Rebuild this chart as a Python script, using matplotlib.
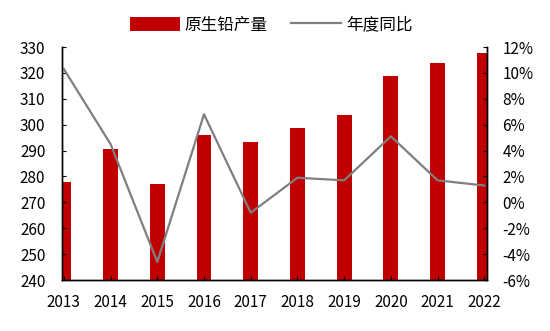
import matplotlib.pyplot as plt
import numpy as np

plt.rcParams['font.family'] = ['Noto Sans CJK SC', 'DejaVu Sans']

years = ['2013', '2014', '2015', '2016', '2017', '2018', '2019', '2020', '2021', '2022']
output = [277.7, 290.5, 277.1, 296.0, 293.2, 298.8, 303.7, 318.7, 323.7, 327.8]
yoy = [10.3, 4.5, -4.6, 6.8, -0.8, 1.9, 1.7, 5.1, 1.7, 1.3]

fig = plt.figure(figsize=(5.5, 3.31), dpi=100)
ax = fig.add_axes([0.1127, 0.154, 0.773, 0.704])
ax2 = ax.twinx()

x = np.arange(len(years))
bars = ax.bar(x, output, width=0.32, color='#C00000', label='原生铅产量')
line, = ax2.plot(x, yoy, color='#7F7F7F', lw=1.6, label='年度同比')

ax.set_xlim(-0.04, 9.06)
ax.set_ylim(240, 330)
ax.set_yticks(np.arange(240, 331, 10))
ax2.set_ylim(-6, 12)
ax2.set_yticks(np.arange(-6, 13, 2))
ax2.set_yticklabels([f'{v}%' for v in range(-6, 13, 2)])
ax.set_xticks(x)
ax.set_xticklabels(years)

for a in (ax, ax2):
    a.spines['top'].set_visible(False)
    for s in a.spines.values():
        s.set_linewidth(1.0)
ax.tick_params(axis='y', direction='in', length=3, labelsize=11, pad=12)
ax2.tick_params(axis='y', direction='in', length=3, labelsize=11, pad=11)
ax.tick_params(axis='x', direction='in', length=3, labelsize=11, pad=10)

fig.legend([bars, line], ['原生铅产量', '年度同比'], loc='center',
           bbox_to_anchor=(0.493, 0.924), ncol=2, frameon=False,
           fontsize=12, handlelength=3.0, handleheight=0.9,
           columnspacing=1.4, handletextpad=0.3)

fig.savefig('out.png', dpi=100)
